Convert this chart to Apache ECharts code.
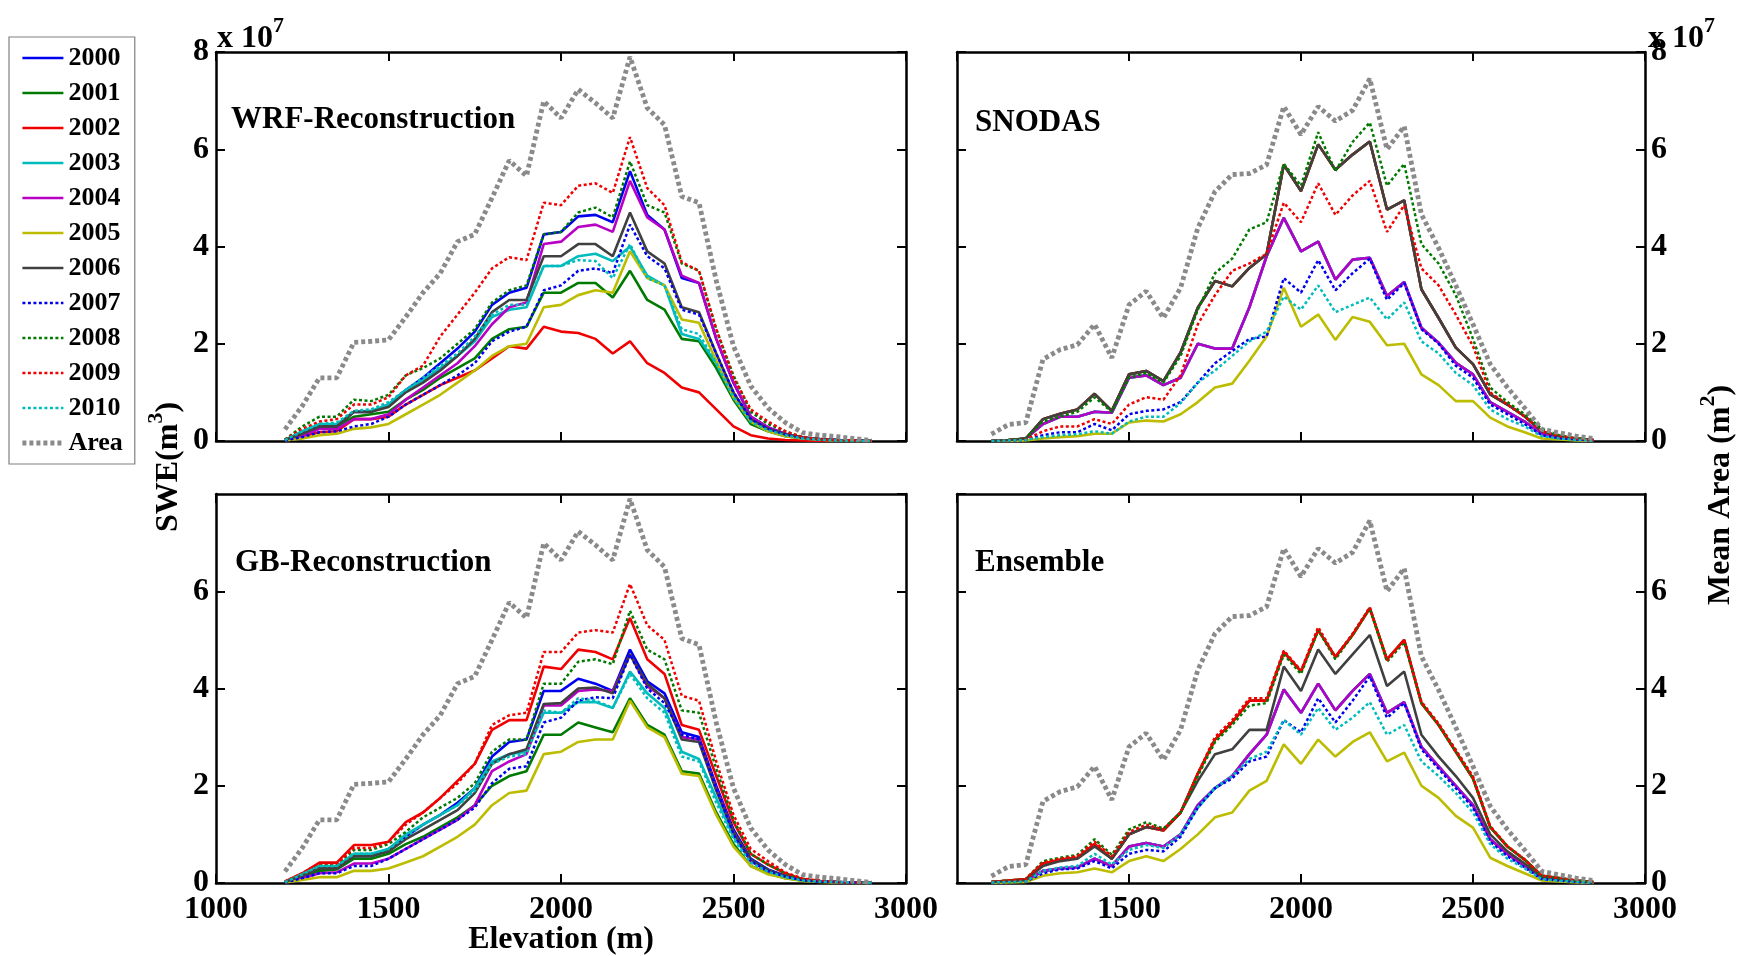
<!DOCTYPE html>
<html>
<head>
<meta charset="utf-8">
<script src="https://cdn.jsdelivr.net/npm/echarts@6/dist/echarts.min.js"></script>
<style>
html,body{margin:0;padding:0;background:#fff;}
#chart{width:1743px;height:956px;}
</style>
</head>
<body>
<div id="chart"></div>
<script>
// ---------- DATA (values in units of 10^7) ----------
const years = ['2000','2001','2002','2003','2004','2005','2006','2007','2008','2009','2010','Area'];
const xTicks = [1000, 1500, 2000, 2500, 3000];
const yTicks = [0, 2, 4, 6, 8];

// Elevation bins for WRF / GB panels
const elevWG = [1200,1250,1300,1350,1400,1450,1500,1550,1600,1650,1700,1750,1800,1850,1900,1950,2000,2050,2100,2150,2200,2250,2300,2350,2400,2450,2500,2550,2600,2650,2700,2750,2800,2850,2900];
// Elevation bins for SNODAS / Ensemble panels
const elevSE = [1100,1150,1200,1250,1300,1350,1400,1450,1500,1550,1600,1650,1700,1750,1800,1850,1900,1950,2000,2050,2100,2150,2200,2250,2300,2350,2400,2450,2500,2550,2600,2650,2700,2750,2800,2850];

const areaWG = [0.24,0.72,1.3,1.3,2.03,2.05,2.08,2.55,3.05,3.45,4.1,4.25,5.0,5.77,5.45,6.99,6.64,7.23,6.95,6.64,7.9,6.85,6.5,5.03,4.9,3.3,1.95,1.13,0.68,0.38,0.17,0.12,0.09,0.05,0.01];
const areaSE = [0.14,0.34,0.38,1.68,1.88,1.98,2.4,1.71,2.8,3.08,2.53,3.15,4.38,5.13,5.48,5.5,5.68,6.88,6.3,6.88,6.58,6.8,7.45,6.0,6.47,4.66,3.97,3.2,2.4,1.58,1.1,0.68,0.24,0.17,0.1,0.05];

// WRF-Reconstruction
const wrf2000 = [0.02,0.15,0.3,0.3,0.6,0.6,0.75,1.05,1.3,1.6,1.9,2.25,2.8,3.05,3.15,4.25,4.3,4.62,4.65,4.5,5.55,4.65,4.35,3.35,3.25,2.1,1.2,0.5,0.28,0.15,0.07,0.04,0.02,0.01,0];
const wrf2001 = [0.02,0.15,0.28,0.3,0.5,0.55,0.6,0.85,1.05,1.3,1.5,1.7,2.1,2.3,2.35,3.05,3.05,3.25,3.25,2.95,3.5,2.9,2.7,2.1,2.05,1.5,0.85,0.35,0.2,0.1,0.05,0.03,0.01,0,0];
const wrf2002 = [0.02,0.1,0.18,0.2,0.45,0.45,0.5,0.75,0.95,1.15,1.3,1.45,1.7,1.95,1.9,2.35,2.25,2.22,2.1,1.8,2.05,1.6,1.4,1.1,1.0,0.65,0.3,0.12,0.05,0.02,0.01,0,0,0,0];
const wrf2003 = [0.02,0.2,0.35,0.35,0.6,0.62,0.75,1.05,1.25,1.5,1.75,2.05,2.55,2.7,2.75,3.6,3.6,3.8,3.85,3.7,4.0,3.4,3.2,2.2,2.1,1.6,0.9,0.4,0.22,0.12,0.05,0.03,0.01,0,0];
const wrf2004 = [0.02,0.1,0.25,0.25,0.45,0.45,0.55,0.85,1.1,1.35,1.6,1.95,2.4,2.75,2.85,4.05,4.1,4.4,4.45,4.3,5.35,4.6,4.35,3.4,3.25,2.1,1.2,0.5,0.28,0.15,0.07,0.04,0.02,0.01,0];
const wrf2005 = [0.01,0.05,0.12,0.15,0.25,0.28,0.35,0.55,0.75,0.95,1.2,1.45,1.75,1.95,2.0,2.75,2.8,3.0,3.1,3.05,3.9,3.35,3.2,2.5,2.43,1.65,0.9,0.4,0.2,0.1,0.05,0.03,0.01,0,0];
const wrf2006 = [0.02,0.15,0.3,0.3,0.6,0.6,0.7,1.0,1.2,1.45,1.75,2.1,2.65,2.9,2.9,3.8,3.8,4.05,4.05,3.8,4.7,3.9,3.65,2.75,2.65,1.8,1.0,0.45,0.25,0.14,0.07,0.04,0.02,0.01,0];
const wrf2007 = [0.01,0.08,0.18,0.2,0.3,0.35,0.5,0.75,0.95,1.15,1.35,1.6,2.05,2.25,2.35,3.1,3.2,3.5,3.55,3.45,4.45,3.8,3.55,2.7,2.6,1.8,1.0,0.45,0.25,0.13,0.06,0.03,0.02,0.01,0];
const wrf2008 = [0.03,0.3,0.5,0.5,0.85,0.82,0.95,1.35,1.5,1.7,2.0,2.3,2.85,3.1,3.2,4.25,4.3,4.7,4.8,4.6,5.75,4.85,4.7,3.65,3.5,2.3,1.35,0.6,0.35,0.2,0.08,0.04,0.02,0.01,0];
const wrf2009 = [0.03,0.25,0.4,0.45,0.75,0.75,0.9,1.35,1.55,2.15,2.6,3.05,3.55,3.78,3.72,4.9,4.85,5.25,5.3,5.1,6.25,5.2,4.85,3.68,3.5,2.3,1.3,0.65,0.4,0.2,0.08,0.04,0.02,0.01,0];
const wrf2010 = [0.02,0.2,0.35,0.38,0.62,0.65,0.8,1.05,1.3,1.55,1.8,2.15,2.6,2.8,2.8,3.6,3.6,3.72,3.7,3.35,4.05,3.35,3.2,2.3,2.2,1.6,0.9,0.4,0.22,0.12,0.05,0.03,0.01,0,0];

// SNODAS
const sno2000 = [0,0.01,0.05,0.35,0.5,0.5,0.6,0.58,1.3,1.35,1.15,1.3,2.0,1.9,1.9,2.75,3.8,4.59,3.9,4.1,3.32,3.73,3.77,2.98,3.27,2.33,2.02,1.61,1.37,0.8,0.6,0.4,0.15,0.08,0.04,0.01];
const sno2001 = [0,0.02,0.05,0.45,0.56,0.65,0.97,0.62,1.37,1.44,1.23,1.82,2.74,3.29,3.18,3.56,3.84,5.68,5.14,6.1,5.58,5.89,6.16,4.76,4.95,3.12,2.53,1.92,1.58,0.96,0.75,0.51,0.2,0.1,0.05,0.02];
const sno2002 = [0,0.02,0.05,0.45,0.56,0.65,0.97,0.62,1.37,1.44,1.23,1.82,2.74,3.29,3.18,3.56,3.84,5.68,5.14,6.1,5.58,5.89,6.16,4.76,4.95,3.12,2.53,1.92,1.58,0.96,0.75,0.51,0.2,0.1,0.05,0.02];
const sno2003 = [0,0.01,0.05,0.35,0.5,0.5,0.6,0.58,1.3,1.35,1.15,1.3,2.0,1.9,1.9,2.75,3.8,4.59,3.9,4.1,3.32,3.73,3.77,2.98,3.27,2.33,2.02,1.61,1.37,0.8,0.6,0.4,0.15,0.08,0.04,0.01];
const sno2004 = [0,0.01,0.05,0.35,0.5,0.5,0.6,0.58,1.3,1.35,1.15,1.3,2.0,1.9,1.9,2.75,3.8,4.59,3.9,4.1,3.32,3.73,3.77,2.98,3.27,2.33,2.02,1.61,1.37,0.8,0.6,0.4,0.15,0.08,0.04,0.01];
const sno2005 = [0,0,0.01,0.05,0.08,0.1,0.15,0.15,0.38,0.42,0.4,0.55,0.8,1.1,1.18,1.65,2.15,3.15,2.35,2.6,2.08,2.55,2.45,1.97,2.0,1.37,1.15,0.82,0.82,0.48,0.3,0.18,0.05,0.03,0.01,0];
const sno2006 = [0,0.02,0.05,0.45,0.56,0.65,0.97,0.62,1.37,1.44,1.23,1.82,2.74,3.29,3.18,3.56,3.84,5.68,5.14,6.1,5.58,5.89,6.16,4.76,4.95,3.12,2.53,1.92,1.58,0.96,0.75,0.51,0.2,0.1,0.05,0.02];
const sno2007 = [0,0.01,0.02,0.12,0.18,0.18,0.35,0.22,0.55,0.62,0.65,0.8,1.2,1.6,1.85,2.1,2.15,3.35,3.05,3.72,3.1,3.45,3.75,2.9,3.25,2.3,2.0,1.55,1.3,0.75,0.55,0.35,0.12,0.06,0.03,0.01];
const sno2008 = [0,0.02,0.05,0.4,0.5,0.6,0.9,0.6,1.3,1.4,1.2,1.75,2.7,3.45,3.75,4.35,4.5,5.7,5.25,6.35,5.55,6.15,6.55,5.25,5.7,4.05,3.65,3.0,2.1,1.1,0.8,0.55,0.25,0.12,0.05,0.02];
const sno2009 = [0,0.01,0.03,0.2,0.3,0.3,0.45,0.35,0.75,0.9,0.85,1.35,2.4,3.0,3.5,3.65,3.85,4.9,4.5,5.3,4.65,5.05,5.35,4.3,4.85,3.55,3.2,2.6,1.95,1.0,0.75,0.5,0.2,0.1,0.05,0.02];
const sno2010 = [0,0.01,0.02,0.08,0.12,0.14,0.2,0.15,0.4,0.5,0.5,0.78,1.2,1.45,1.75,2.05,2.25,2.97,2.7,3.2,2.65,2.8,2.95,2.5,2.85,2.05,1.8,1.4,1.15,0.65,0.45,0.3,0.1,0.05,0.02,0.01];

// GB-Reconstruction
const gb2000 = [0.02,0.15,0.3,0.3,0.55,0.55,0.7,0.95,1.2,1.4,1.65,1.95,2.6,2.9,2.95,3.95,3.95,4.2,4.1,3.95,4.8,4.15,3.9,3.1,3.0,2.0,1.1,0.5,0.28,0.15,0.07,0.04,0.02,0.01,0];
const gb2001 = [0.02,0.12,0.25,0.28,0.5,0.5,0.6,0.8,0.95,1.15,1.35,1.6,2.0,2.2,2.3,3.05,3.05,3.3,3.2,3.1,3.8,3.25,3.05,2.3,2.25,1.45,0.8,0.35,0.2,0.1,0.05,0.03,0.01,0,0];
const gb2002 = [0.03,0.2,0.42,0.42,0.78,0.78,0.85,1.25,1.45,1.75,2.1,2.45,3.15,3.35,3.35,4.45,4.4,4.8,4.75,4.6,5.45,4.6,4.3,3.25,3.15,2.2,1.25,0.6,0.38,0.2,0.08,0.04,0.02,0.01,0];
const gb2003 = [0.02,0.18,0.35,0.35,0.6,0.6,0.7,1.0,1.2,1.4,1.6,1.95,2.5,2.65,2.7,3.5,3.5,3.72,3.72,3.6,4.35,3.9,3.6,2.7,2.55,1.75,0.95,0.45,0.25,0.13,0.06,0.03,0.02,0.01,0];
const gb2004 = [0.01,0.1,0.2,0.22,0.4,0.4,0.5,0.7,0.9,1.1,1.3,1.6,2.3,2.5,2.65,3.65,3.65,3.95,3.98,3.95,4.7,4.05,3.8,3.0,2.95,1.95,1.05,0.45,0.25,0.13,0.06,0.03,0.02,0.01,0];
const gb2005 = [0.01,0.06,0.12,0.12,0.25,0.25,0.3,0.42,0.55,0.75,0.95,1.2,1.6,1.85,1.9,2.65,2.7,2.9,2.95,2.95,3.75,3.2,3.0,2.25,2.2,1.4,0.75,0.35,0.18,0.1,0.04,0.02,0.01,0,0];
const gb2006 = [0.02,0.15,0.3,0.3,0.55,0.55,0.65,0.9,1.1,1.3,1.5,1.85,2.45,2.65,2.75,3.68,3.7,4.0,4.02,3.9,4.7,4.1,3.8,2.95,2.9,1.9,1.05,0.48,0.27,0.14,0.06,0.03,0.02,0.01,0];
const gb2007 = [0.01,0.1,0.2,0.2,0.35,0.35,0.5,0.7,0.9,1.1,1.3,1.55,2.05,2.35,2.4,3.3,3.4,3.75,3.82,3.8,4.7,4.0,3.7,3.05,2.95,1.95,1.0,0.45,0.25,0.13,0.06,0.03,0.02,0.01,0];
const gb2008 = [0.02,0.18,0.38,0.38,0.68,0.68,0.8,1.05,1.35,1.55,1.75,2.05,2.7,2.95,2.95,4.1,4.1,4.55,4.6,4.5,5.6,4.8,4.6,3.55,3.5,2.35,1.3,0.6,0.38,0.2,0.08,0.04,0.02,0.01,0];
const gb2009 = [0.03,0.2,0.4,0.4,0.72,0.72,0.85,1.2,1.45,1.75,2.05,2.45,3.25,3.45,3.5,4.75,4.75,5.15,5.2,5.15,6.15,5.3,5.0,3.85,3.75,2.5,1.4,0.7,0.45,0.22,0.09,0.05,0.02,0.01,0];
const gb2010 = [0.02,0.18,0.35,0.35,0.6,0.6,0.7,0.95,1.2,1.4,1.6,1.9,2.45,2.6,2.65,3.55,3.5,3.8,3.75,3.6,4.3,3.8,3.5,2.6,2.5,1.65,0.9,0.42,0.23,0.12,0.05,0.03,0.02,0.01,0];

// Ensemble
const ens2000 = [0.01,0.03,0.04,0.25,0.3,0.32,0.5,0.35,0.75,0.82,0.75,1.0,1.6,1.95,2.2,2.65,3.05,3.98,3.5,4.1,3.55,3.95,4.3,3.5,3.72,2.8,2.4,2.0,1.6,0.9,0.6,0.35,0.1,0.06,0.03,0.01];
const ens2001 = [0.02,0.05,0.08,0.4,0.48,0.52,0.8,0.5,1.0,1.15,1.08,1.45,2.25,2.95,3.3,3.75,3.75,4.75,4.35,5.2,4.65,5.1,5.65,4.6,5.0,3.7,3.25,2.7,2.15,1.15,0.75,0.48,0.15,0.1,0.05,0.02];
const ens2002 = [0.02,0.05,0.08,0.4,0.48,0.52,0.8,0.5,1.0,1.15,1.08,1.45,2.25,2.95,3.3,3.75,3.75,4.75,4.35,5.2,4.65,5.1,5.65,4.6,5.0,3.7,3.25,2.7,2.15,1.15,0.75,0.48,0.15,0.1,0.05,0.02];
const ens2003 = [0.01,0.03,0.04,0.25,0.3,0.32,0.5,0.35,0.75,0.82,0.75,1.0,1.6,1.95,2.2,2.65,3.05,3.98,3.5,4.1,3.55,3.95,4.3,3.5,3.72,2.8,2.4,2.0,1.6,0.9,0.6,0.35,0.1,0.06,0.03,0.01];
const ens2004 = [0.01,0.03,0.04,0.25,0.3,0.32,0.5,0.35,0.75,0.82,0.75,1.0,1.6,1.95,2.2,2.65,3.05,3.98,3.5,4.1,3.55,3.95,4.3,3.5,3.72,2.8,2.4,2.0,1.6,0.9,0.6,0.35,0.1,0.06,0.03,0.01];
const ens2005 = [0,0.01,0.02,0.15,0.2,0.22,0.3,0.22,0.45,0.55,0.45,0.7,1.0,1.35,1.45,1.9,2.1,2.85,2.45,2.95,2.6,2.9,3.1,2.5,2.68,2.0,1.75,1.38,1.14,0.52,0.35,0.2,0.05,0.03,0.01,0];
const ens2006 = [0.02,0.04,0.06,0.35,0.45,0.5,0.75,0.5,1.0,1.15,1.1,1.45,2.1,2.65,2.75,3.15,3.15,4.45,3.95,4.8,4.3,4.7,5.1,4.05,4.35,3.05,2.6,2.2,1.75,1.0,0.65,0.4,0.12,0.08,0.04,0.01];
const ens2007 = [0.01,0.02,0.03,0.2,0.28,0.3,0.45,0.3,0.6,0.68,0.65,0.95,1.55,1.95,2.15,2.5,2.6,3.35,3.1,3.8,3.3,3.75,4.25,3.4,3.7,2.75,2.35,1.95,1.55,0.85,0.55,0.32,0.08,0.05,0.02,0.01];
const ens2008 = [0.02,0.05,0.08,0.45,0.52,0.58,0.9,0.58,1.1,1.25,1.12,1.45,2.2,2.9,3.25,3.65,3.7,4.7,4.3,5.2,4.6,5.1,5.65,4.55,4.95,3.7,3.25,2.7,2.15,1.15,0.75,0.48,0.15,0.1,0.05,0.02];
const ens2009 = [0.02,0.05,0.08,0.42,0.5,0.55,0.85,0.55,1.05,1.2,1.1,1.45,2.25,3.0,3.35,3.8,3.8,4.78,4.37,5.26,4.65,5.13,5.67,4.58,5.0,3.73,3.28,2.74,2.19,1.17,0.76,0.49,0.15,0.1,0.05,0.02];
const ens2010 = [0.01,0.02,0.03,0.25,0.32,0.35,0.6,0.38,0.68,0.78,0.72,1.0,1.55,1.95,2.2,2.55,2.7,3.35,3.05,3.6,3.15,3.4,3.72,3.05,3.25,2.5,2.2,1.85,1.45,0.8,0.5,0.3,0.08,0.05,0.02,0.01];

const panelTitles = ['WRF-Reconstruction', 'SNODAS', 'GB-Reconstruction', 'Ensemble'];
const panelElev = [elevWG, elevSE, elevWG, elevSE];
const panelSeries = [
  [wrf2000,wrf2001,wrf2002,wrf2003,wrf2004,wrf2005,wrf2006,wrf2007,wrf2008,wrf2009,wrf2010,areaWG],
  [sno2000,sno2001,sno2002,sno2003,sno2004,sno2005,sno2006,sno2007,sno2008,sno2009,sno2010,areaSE],
  [gb2000,gb2001,gb2002,gb2003,gb2004,gb2005,gb2006,gb2007,gb2008,gb2009,gb2010,areaWG],
  [ens2000,ens2001,ens2002,ens2003,ens2004,ens2005,ens2006,ens2007,ens2008,ens2009,ens2010,areaSE]
];

// ---------- STYLE ----------
const FONT = 'Liberation Serif';
const colors = ['#0000f0','#007a00','#f00000','#00bcbc','#b800c4','#bcbc00','#404040','#0000f0','#007a00','#f00000','#00bcbc','#8a8a8a'];
const styles = years.map((y, i) => {
  if (i === 11) return { color: colors[i], width: 4.8, type: [4, 3] };
  if (i >= 7) return { color: colors[i], width: 2.5, type: [3, 2.5] };
  return { color: colors[i], width: 2.6, type: 'solid' };
});

const grids = [
  { left: 216, top: 52, width: 690, height: 389 },
  { left: 957, top: 52, width: 688, height: 389 },
  { left: 216, top: 494, width: 690, height: 389 },
  { left: 957, top: 494, width: 688, height: 389 }
];

const labelStyle = { fontFamily: FONT, fontWeight: 'bold', fontSize: 32, color: '#000', formatter: v => String(v) };
const axisLine = { show: true, onZero: false, lineStyle: { color: '#000', width: 2.5 } };
const axisTick = { show: true, inside: true, length: 9, lineStyle: { color: '#000', width: 2 } };

const xAxes = [], yAxes = [], series = [];
grids.forEach((g, p) => {
  const bottomRow = p >= 2, leftCol = p % 2 === 0;
  xAxes.push({
    gridIndex: p, type: 'value', position: 'bottom', min: xTicks[0], max: xTicks[xTicks.length - 1], interval: 500,
    axisLine, axisTick, splitLine: { show: false },
    axisLabel: Object.assign({ show: bottomRow, margin: 11, showMinLabel: p !== 3 }, labelStyle)
  });
  xAxes.push({
    gridIndex: p, type: 'value', position: 'top', min: xTicks[0], max: xTicks[xTicks.length - 1], interval: 500,
    axisLine, axisTick, splitLine: { show: false }, axisLabel: { show: false }
  });
  yAxes.push({
    gridIndex: p, type: 'value', position: 'left', min: yTicks[0], max: yTicks[yTicks.length - 1], interval: 2,
    axisLine, axisTick, splitLine: { show: false },
    axisLabel: Object.assign({ show: leftCol, margin: 7, showMaxLabel: !bottomRow }, labelStyle)
  });
  yAxes.push({
    gridIndex: p, type: 'value', position: 'right', min: yTicks[0], max: yTicks[yTicks.length - 1], interval: 2,
    axisLine, axisTick, splitLine: { show: false },
    axisLabel: Object.assign({ show: !leftCol, margin: 6, showMaxLabel: !bottomRow }, labelStyle)
  });
  const elev = panelElev[p];
  panelSeries[p].forEach((vals, i) => {
    series.push({
      type: 'line', name: years[i], xAxisIndex: 2 * p, yAxisIndex: 2 * p,
      data: vals.map((v, k) => [elev[k], v]),
      symbol: 'none', showSymbol: false, silent: true, animation: false,
      lineStyle: styles[i], itemStyle: { color: colors[i] }, z: 2 + i * 0.01
    });
  });
});

const titlePos = [[231, 120], [975, 123], [235, 563], [975, 563]];
const graphics = panelTitles.map((t, p) => ({
  type: 'text', x: titlePos[p][0], y: titlePos[p][1], z: 100,
  style: { text: t, fontFamily: FONT, fontWeight: 'bold', fontSize: 31, fill: '#000', verticalAlign: 'middle' }
}));
const expRich = {
  a: { fontFamily: FONT, fontWeight: 'bold', fontSize: 32, lineHeight: 40, verticalAlign: 'bottom' },
  s: { fontFamily: FONT, fontWeight: 'bold', fontSize: 22, lineHeight: 40, verticalAlign: 'top' }
};
graphics.push({ type: 'text', x: 217, y: 35, z: 100,
  style: { text: '{a|x 10}{s|7}', rich: expRich, fill: '#000', verticalAlign: 'middle' } });
graphics.push({ type: 'text', x: 1648, y: 35, z: 100,
  style: { text: '{a|x 10}{s|7}', rich: expRich, fill: '#000', verticalAlign: 'middle' } });
graphics.push({ type: 'text', x: 165, y: 467, rotation: Math.PI / 2, z: 100,
  style: { text: '{a|SWE(m}{s|3}{a|)}', rich: expRich, fill: '#000', align: 'center', verticalAlign: 'middle' } });
graphics.push({ type: 'text', x: 1717, y: 495, rotation: Math.PI / 2, z: 100,
  style: { text: '{a|Mean Area (m}{s|2}{a|)}', rich: expRich, fill: '#000', align: 'center', verticalAlign: 'middle' } });
graphics.push({ type: 'text', x: 561, y: 940, z: 100,
  style: { text: 'Elevation (m)', fontFamily: FONT, fontWeight: 'bold', fontSize: 32, fill: '#000', align: 'center', verticalAlign: 'middle' } });

const option = {
  backgroundColor: '#fff',
  animation: false,
  grid: grids,
  xAxis: xAxes,
  yAxis: yAxes,
  series: series,
  legend: {
    data: years, orient: 'vertical', left: 9, top: 37,
    itemWidth: 41, itemHeight: 24, itemGap: 9, itemTextGap: 6,
    padding: [8, 12, 8, 11],
    borderColor: '#808080', borderWidth: 1.2, backgroundColor: '#fff',
    selectedMode: false,
    itemStyle: { opacity: 0, borderWidth: 0 },
    lineStyle: { width: 'inherit', type: 'inherit', color: 'inherit' },
    textStyle: { fontFamily: FONT, fontWeight: 'bold', fontSize: 26, lineHeight: 24, color: '#000' }
  },
  graphic: graphics
};

const chart = echarts.init(document.getElementById('chart'), null, { renderer: 'canvas' });
chart.setOption(option);
</script>
</body>
</html>
